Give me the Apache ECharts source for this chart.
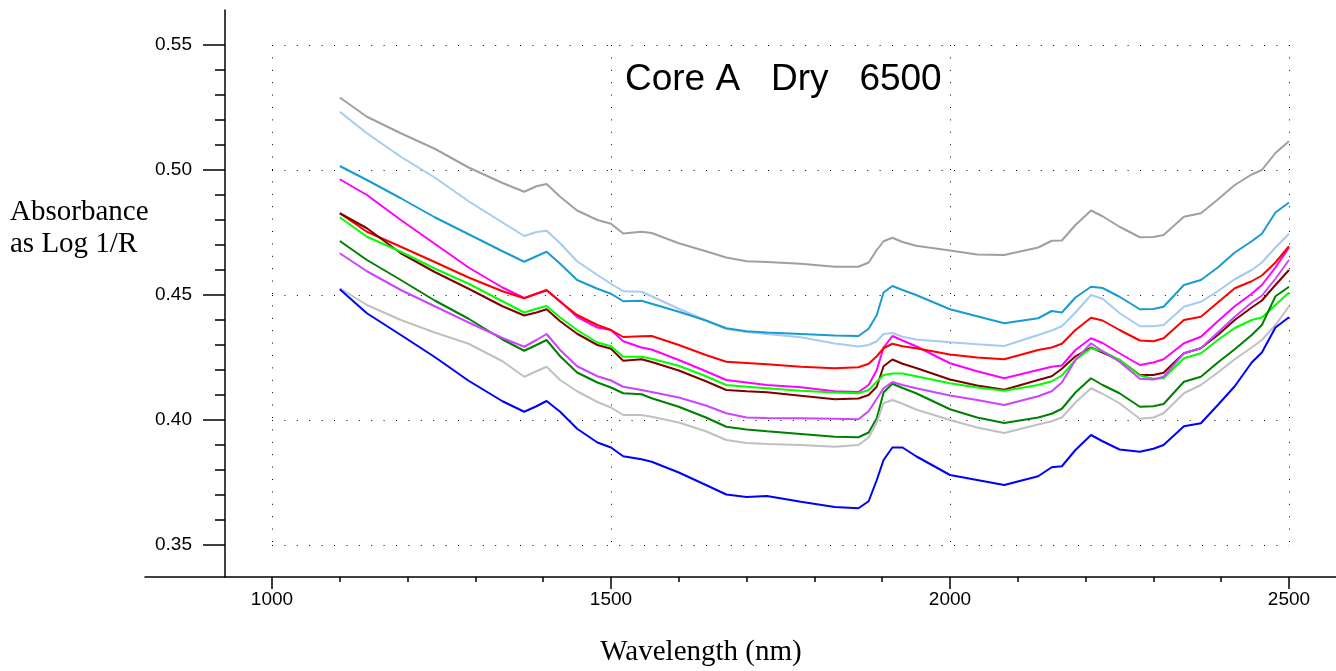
<!DOCTYPE html>
<html>
<head>
<meta charset="utf-8">
<script src="https://cdn.jsdelivr.net/npm/echarts@6/dist/echarts.min.js"></script>
<style>
html,body{margin:0;padding:0;background:#fff;}
#chart{width:1336px;height:671px;}
</style>
</head>
<body>
<div id="chart"></div>
<script>
// Wavelengths (nm) shared by all spectra
var wavelengths = [1100,1140,1190,1240,1290,1340,1372,1390,1405,1425,1450,1480,1500,1518,1545,1560,1600,1640,1670,1700,1730,1780,1830,1865,1880,1892,1902,1915,1930,1950,2000,2040,2080,2130,2150,2165,2185,2208,2225,2250,2280,2300,2315,2345,2370,2395,2420,2445,2460,2480,2500];

var grayTop = [.5290,.5213,.5147,.5085,.5010,.4948,.4913,.4935,.4944,.4893,.4838,.4800,.4785,.4746,.4753,.4748,.4707,.4675,.4650,.4635,.4632,.4625,.4613,.4613,.4630,.4680,.4715,.4729,.4712,.4697,.4678,.4662,.4660,.4690,.4717,.4718,.4780,.4838,.4815,.4773,.4731,.4732,.4740,.4813,.4827,.4882,.4940,.4982,.5000,.5068,.5115];
var lightBlue = [.5233,.5147,.5053,.4970,.4875,.4790,.4736,.4752,.4757,.4707,.4635,.4580,.4545,.4515,.4513,.4495,.4445,.4398,.4364,.4352,.4344,.4331,.4306,.4294,.4300,.4315,.4344,.4348,.4333,.4322,.4311,.4303,.4296,.4340,.4358,.4375,.4430,.4500,.4485,.4428,.4375,.4375,.4380,.4453,.4473,.4515,.4563,.4600,.4630,.4690,.4745];
var teal = [.5016,.4960,.4887,.4811,.4743,.4675,.4633,.4655,.4673,.4625,.4560,.4525,.4505,.4475,.4477,.4465,.4433,.4398,.4367,.4355,.4350,.4344,.4338,.4336,.4365,.4420,.4510,.4536,.4520,.4500,.4443,.4415,.4387,.4407,.4436,.4430,.4490,.4533,.4528,.4493,.4443,.4444,.4453,.4540,.4560,.4610,.4670,.4715,.4745,.4830,.4870];
var magenta = [.4963,.4900,.4800,.4705,.4610,.4530,.4488,.4505,.4518,.4475,.4412,.4370,.4360,.4315,.4290,.4282,.4240,.4195,.4160,.4150,.4140,.4131,.4115,.4112,.4140,.4200,.4290,.4336,.4318,.4295,.4227,.4195,.4167,.4200,.4213,.4218,.4280,.4327,.4308,.4267,.4220,.4230,.4243,.4307,.4333,.4395,.4455,.4505,.4540,.4610,.4690];
var red = [.4827,.4753,.4693,.4632,.4570,.4515,.4487,.4505,.4520,.4473,.4420,.4380,.4360,.4332,.4335,.4336,.4300,.4260,.4233,.4228,.4223,.4213,.4207,.4211,.4225,.4255,.4287,.4305,.4295,.4287,.4262,.4250,.4243,.4280,.4290,.4305,.4360,.4409,.4398,.4360,.4318,.4315,.4327,.4400,.4413,.4470,.4527,.4555,.4578,.4630,.4695];
var maroon = [.4827,.4767,.4667,.4592,.4525,.4455,.4418,.4430,.4443,.4395,.4345,.4300,.4285,.4237,.4243,.4232,.4198,.4155,.4120,.4115,.4111,.4097,.4083,.4086,.4100,.4133,.4215,.4242,.4225,.4208,.4162,.4138,.4121,.4160,.4175,.4205,.4255,.4290,.4270,.4240,.4180,.4180,.4189,.4267,.4287,.4340,.4400,.4450,.4478,.4540,.4600];
var green = [.4811,.4733,.4673,.4606,.4545,.4475,.4430,.4445,.4456,.4410,.4360,.4310,.4295,.4253,.4253,.4245,.4217,.4175,.4140,.4133,.4127,.4117,.4110,.4107,.4120,.4153,.4180,.4186,.4186,.4175,.4147,.4130,.4117,.4140,.4155,.4178,.4240,.4287,.4275,.4240,.4178,.4165,.4167,.4247,.4267,.4320,.4368,.4400,.4410,.4460,.4510];
var darkGreen = [.4716,.4640,.4560,.4478,.4405,.4322,.4277,.4300,.4320,.4255,.4190,.4150,.4130,.4107,.4103,.4087,.4053,.4010,.3973,.3962,.3955,.3944,.3933,.3931,.3950,.4007,.4110,.4145,.4128,.4107,.4043,.4010,.3988,.4010,.4025,.4045,.4110,.4167,.4140,.4107,.4053,.4055,.4064,.4153,.4173,.4230,.4283,.4340,.4380,.4495,.4533];
var violet = [.4667,.4595,.4520,.4455,.4390,.4328,.4293,.4320,.4344,.4280,.4215,.4175,.4158,.4133,.4120,.4112,.4090,.4058,.4027,.4010,.4008,.4007,.4005,.4003,.4035,.4085,.4127,.4152,.4140,.4127,.4098,.4080,.4060,.4095,.4115,.4150,.4240,.4307,.4275,.4233,.4165,.4162,.4173,.4267,.4287,.4350,.4413,.4470,.4497,.4565,.4640];
var lightGray = [.4527,.4460,.4400,.4350,.4305,.4235,.4173,.4195,.4213,.4160,.4115,.4072,.4050,.4020,.4020,.4013,.3990,.3955,.3920,.3908,.3904,.3900,.3893,.3900,.3930,.3990,.4067,.4080,.4065,.4042,.4000,.3970,.3948,.3982,.3995,.4010,.4070,.4127,.4105,.4067,.4005,.4010,.4027,.4107,.4140,.4190,.4243,.4290,.4320,.4380,.4455];
var blue = [.4523,.4427,.4340,.4252,.4157,.4075,.4033,.4055,.4076,.4033,.3965,.3910,.3890,.3855,.3843,.3833,.3790,.3740,.3702,.3692,.3696,.3673,.3652,.3647,.3675,.3760,.3840,.3890,.3890,.3855,.3780,.3760,.3740,.3775,.3811,.3815,.3880,.3940,.3915,.3882,.3873,.3885,.3900,.3975,.3987,.4060,.4135,.4230,.4270,.4370,.4411];

var seriesNames = ['grayTop','lightBlue','teal','magenta','red','maroon','green','darkGreen','violet','lightGray','blue'];
var seriesValues = [grayTop,lightBlue,teal,magenta,red,maroon,green,darkGreen,violet,lightGray,blue];
var seriesColors = ['#A0A0A0','#A6CAF0','#1A9BD0','#FF00FF','#FF0000','#800000','#00FF00','#008000','#CC44FF','#C0C0C0','#0000FF'];

var chartTitle = 'Core A   Dry   6500';
var xName = 'Wavelength (nm)';
var yName1 = 'Absorbance';
var yName2 = 'as Log 1/R';

var chart = echarts.init(document.getElementById('chart'), null, {renderer: 'canvas'});

var dotted = {color: '#000', width: 1, type: [1, 11.4]};
var series = seriesValues.map(function (vals, i) {
  return {
    name: seriesNames[i],
    type: 'line',
    xAxisIndex: 1,
    yAxisIndex: 1,
    showSymbol: false,
    symbol: 'none',
    animation: false,
    lineStyle: {color: seriesColors[i], width: 2},
    data: wavelengths.map(function (w, j) { return [w, vals[j]]; })
  };
});

chart.setOption({
  animation: false,
  backgroundColor: '#fff',
  grid: [
    {left: 145, right: 0, top: 10, bottom: 94},
    {left: 272, right: 47, top: 45, bottom: 126}
  ],
  xAxis: [
    {
      gridIndex: 0, type: 'value', min: 812.7, max: 2569,
      axisLine: {show: true, onZero: false, lineStyle: {color: '#000', width: 1.5}},
      axisTick: {show: false}, axisLabel: {show: false}, splitLine: {show: false}
    },
    {
      gridIndex: 1, type: 'value', min: 1000, max: 2500, interval: 500,
      offset: 32,
      axisLine: {show: false, onZero: false},
      axisTick: {show: true, length: 12, lineStyle: {color: '#000', width: 1.5}},
      minorTick: {show: true, splitNumber: 5, length: 5, lineStyle: {color: '#000', width: 1.5}},
      axisLabel: {show: true, margin: 13, fontSize: 19, color: '#000', fontFamily: 'Liberation Sans',
        formatter: function (v) { return String(v); }},
      splitLine: {show: true, lineStyle: dotted}
    }
  ],
  yAxis: [
    {
      gridIndex: 0, type: 'value', min: 0.3372, max: 0.564, offset: -80,
      axisLine: {show: true, onZero: false, lineStyle: {color: '#000', width: 1.5}},
      axisTick: {show: false}, axisLabel: {show: false}, splitLine: {show: false}
    },
    {
      gridIndex: 1, type: 'value', min: 0.35, max: 0.55, interval: 0.05,
      offset: 47,
      axisLine: {show: false, onZero: false},
      axisTick: {show: true, length: 22, lineStyle: {color: '#000', width: 1.5}},
      minorTick: {show: true, splitNumber: 5, length: 10, lineStyle: {color: '#000', width: 1.5}},
      axisLabel: {show: true, margin: 33, fontSize: 19, color: '#000', fontFamily: 'Liberation Sans',
        formatter: function (v) { return v.toFixed(2); }},
      splitLine: {show: true, lineStyle: dotted}
    }
  ],
  graphic: [
    {type: 'text', silent: true,
     style: {text: chartTitle, x: 625, y: 80, font: '37px "Liberation Sans", Arial, sans-serif', fill: '#000', textAlign: 'left', textVerticalAlign: 'middle'}},
    {type: 'text', silent: true,
     style: {text: xName, x: 701, y: 652, font: '29px "Liberation Serif", "Times New Roman", serif', fill: '#000', textAlign: 'center', textVerticalAlign: 'middle'}},
    {type: 'text', silent: true,
     style: {text: yName1, x: 10, y: 212, font: '29px "Liberation Serif", "Times New Roman", serif', fill: '#000', textAlign: 'left', textVerticalAlign: 'middle'}},
    {type: 'text', silent: true,
     style: {text: yName2, x: 10, y: 244, font: '29px "Liberation Serif", "Times New Roman", serif', fill: '#000', textAlign: 'left', textVerticalAlign: 'middle'}}
  ],
  series: series
});
</script>
</body>
</html>
